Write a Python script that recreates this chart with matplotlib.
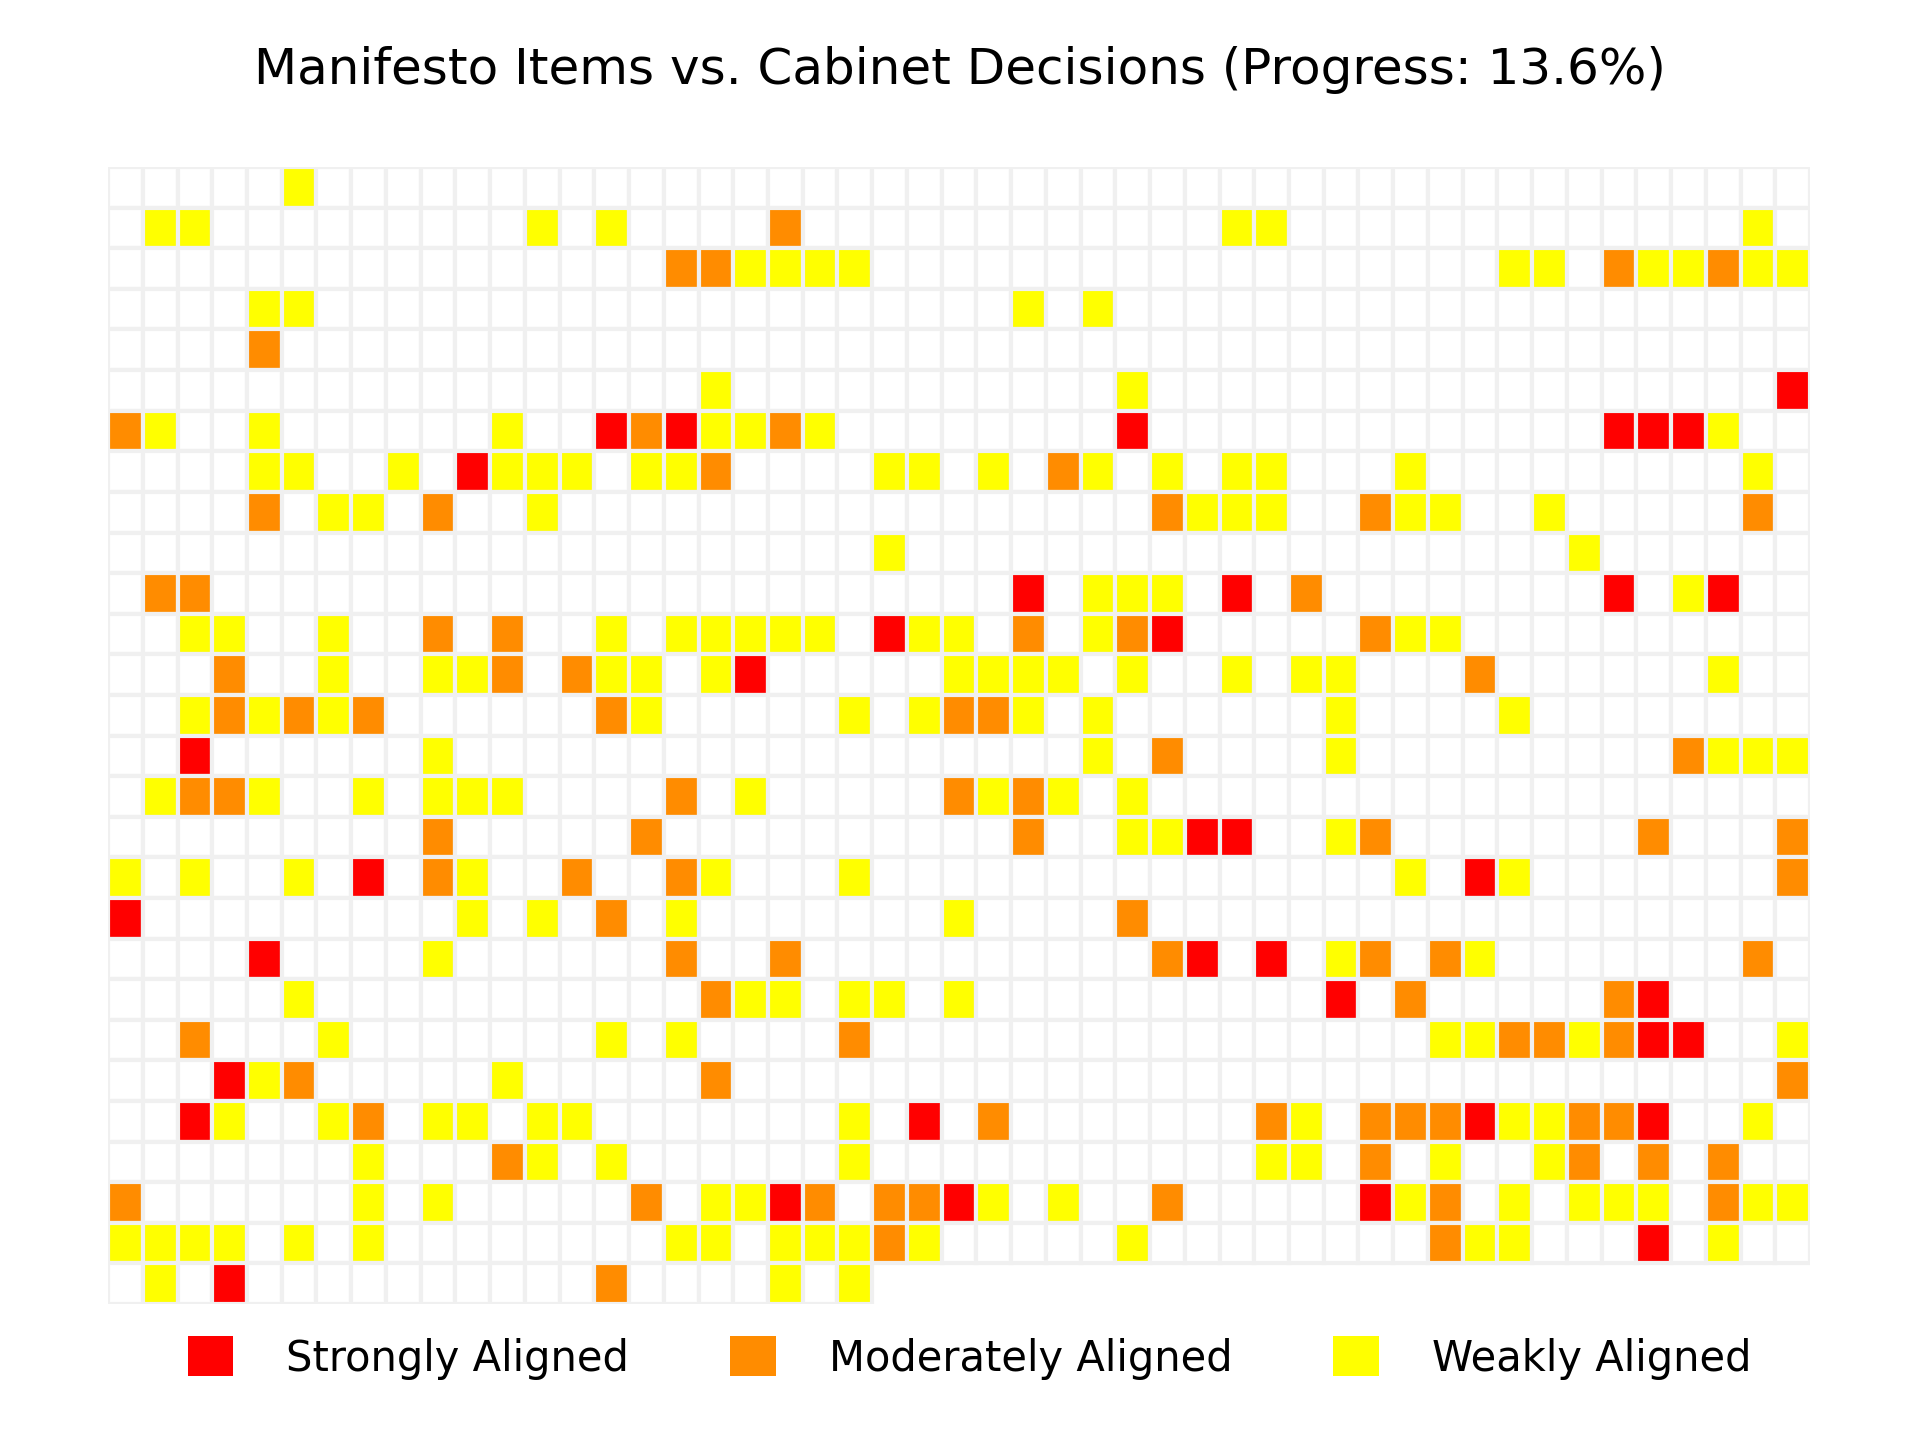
import matplotlib
matplotlib.use('Agg')
import matplotlib.pyplot as plt
from matplotlib.patches import Rectangle, Patch

# alignment categories (code -> label, colour)
categories = ['Strongly Aligned', 'Moderately Aligned', 'Weakly Aligned']
codes = ['S', 'M', 'W']
colors = ['#ff0000', '#ff8c00', '#ffff00']
empty_color = '#ffffff'
edge_color = '#f0f0f0'

title = 'Manifesto Items vs. Cabinet Decisions (Progress: 13.6%)'

n_cols = 49

# one string per row of the waffle, '.' = no matching decision
# (spaces only group the cells by ten, they are removed below)
grid_rows = [
    '.....W.... .......... .......... .......... .........',
    '.WW....... ..W.W....M .......... ..WW...... .......W.',
    '.......... ......MMWW WW........ .......... WW.MWWMWW',
    '....WW.... .......... ......W.W. .......... .........',
    '....M..... .......... .......... .......... .........',
    '.......... .......W.. .........W .......... ........S',
    'MW..W..... .W..SMSWWM W........S .......... ...SSSW..',
    '....WW..W. SWWW.WWM.. ..WW.W.MW. W.WW...W.. .......W.',
    '....M.WW.M ..W....... .......... MWWW..MWW. .W.....M.',
    '.......... .......... ..W....... .......... ..W......',
    '.MM....... .......... ......S.WW W.S.M..... ...S.WS..',
    '..WW..W..M .M..W.WWWW W.SWW.M.WM S.....MWW. .........',
    '...M..W..W WM.MWW.WS. ....WWWW.W ..W.WW...M ......W..',
    '..WMWMWM.. ....MW.... .W.WMMW.W. .....W.... W........',
    '..S......W .......... ........W. M....W.... .....MWWW',
    '.WMMW..W.W WW....M.W. ....MWMW.W .......... .........',
    '.........M .....M.... ......M..W WSS..WM... ....M...M',
    'W.W..W.S.M W..M..MW.. .W........ .......W.S W.......M',
    'S......... W.W.M.W... ....W....M .......... .........',
    '....S....W ......M..M .......... MS.S.WM.MW .......M.',
    '.....W.... .......MWW .WW.W..... .....S.M.. ...MS....',
    '..M...W... ....W.W... .M........ ........WW MMWMSS..W',
    '...SWM.... .W.....M.. .......... .......... ........M',
    '..SW..WM.W W.WW...... .W.S.M.... ...MW.MMMS WWMMS..W.',
    '.......W.. .MW.W..... .W........ ...WW.M.W. .WM.M.M..',
    'M......W.W .....M.WWS M.MMSW.W.. M.....SWM. W.WWW.MWW',
    'WWWW.W.W.. ......WW.W WWMW.....W ........MW W...S.W..',
    '.W.S...... ....M....W .W',
]

plt.rcParams['font.family'] = ['DejaVu Sans']

fig = plt.figure(figsize=(9.6, 7.2), dpi=200)
ax = fig.add_axes([0.0563, 0.0944, 0.8864, 0.7896])

color_of = dict(zip(codes, colors))
for r, row in enumerate(grid_rows):
    cells = row.replace(' ', '')
    for c, code in enumerate(cells):
        face = color_of.get(code, empty_color)
        ax.add_patch(Rectangle((c, r), 1, 1, facecolor=face,
                               edgecolor=edge_color, linewidth=1.5))

ax.set_xlim(0, n_cols)
ax.set_ylim(len(grid_rows), 0)
ax.axis('off')

fig.text(0.5, 0.9417, title, ha='center', va='baseline', fontsize=18)

handles = [Patch(facecolor=col, edgecolor='none') for col in colors]
fig.legend(handles, categories, loc='center', bbox_to_anchor=(0.505, 0.057),
           ncol=3, frameon=False, fontsize=15, handlelength=1.1,
           handleheight=1.1, handletextpad=1.27, columnspacing=2.42)

fig.savefig('out.png', dpi=200)
